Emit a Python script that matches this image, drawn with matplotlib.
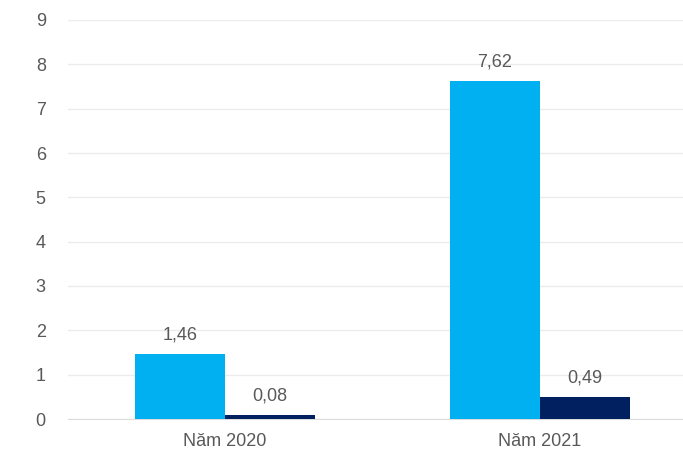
import numpy as np
import matplotlib.pyplot as plt

plt.rcParams['font.family'] = ['Liberation Sans', 'DejaVu Sans']

categories = ['Năm 2020', 'Năm 2021']
series_a = [1.46, 7.62]
series_b = [0.08, 0.49]
labels_a = ['1,46', '7,62']
labels_b = ['0,08', '0,49']

text_color = '#595959'
fig = plt.figure(figsize=(6.83, 4.59), dpi=100)
ax = fig.add_axes([68 / 683, 40 / 459, 615 / 683, 399 / 459])

x = np.arange(len(categories))
w = 0.286
bars_a = ax.bar(x - w / 2, series_a, w, color='#00B0F0', zorder=3)
bars_b = ax.bar(x + w / 2, series_b, w, color='#002060', zorder=3)

for bars, labs in [(bars_a, labels_a), (bars_b, labels_b)]:
    for b, lab in zip(bars, labs):
        ax.annotate(lab, (b.get_x() + b.get_width() / 2, b.get_height()),
                    xytext=(0, 8), textcoords='offset points',
                    ha='center', va='bottom', fontsize=13, color=text_color)

ax.set_xlim(-0.498, 1.454)
ax.set_ylim(0, 9)
ax.set_yticks(range(0, 10))
ax.set_xticks(x)
ax.set_xticklabels(categories)
ax.yaxis.grid(True, color='#ececec', linewidth=1, zorder=0)
ax.tick_params(axis='both', length=0, labelsize=13, labelcolor=text_color)
ax.tick_params(axis='y', pad=16)
ax.tick_params(axis='x', pad=10)
for s in ['top', 'right', 'left']:
    ax.spines[s].set_visible(False)
ax.spines['bottom'].set_color('#dcdcdc')

fig.savefig('out.png', dpi=100)
